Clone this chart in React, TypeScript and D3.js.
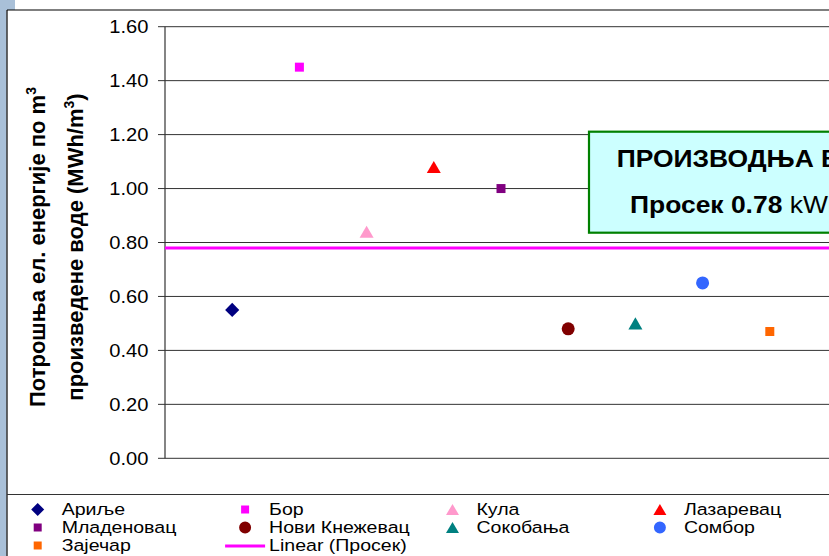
import { useMemo } from 'react'
import { format, scaleLinear, symbol, symbolCircle, symbolSquare, symbolTriangle } from 'd3'

// Потрошња ел. енергије по m³ произведене воде, по погонима, са линијом просека.

const CITIES = ['Ариље', 'Бор', 'Кула', 'Лазаревац', 'Младеновац', 'Нови Кнежевац', 'Сокобања', 'Сомбор', 'Зајечар']
const CONSUMPTION = [0.55, 1.45, 0.84, 1.08, 1.0, 0.48, 0.5, 0.65, 0.47]
const AVERAGE = 0.78
const Y_TICKS = [0, 0.2, 0.4, 0.6, 0.8, 1.0, 1.2, 1.4, 1.6]
const AVERAGE_LABEL = 'Linear (Просек)'

type Shape = 'diamond' | 'square' | 'triangle' | 'circle'
const SHAPES: Shape[] = ['diamond', 'square', 'triangle', 'triangle', 'square', 'circle', 'triangle', 'circle', 'square']
const COLORS = ['#000080', '#FF00FF', '#FF99CC', '#FF0000', '#800080', '#800000', '#008080', '#3366FF', '#FF6600']

const W = 829
const H = 556
const SX = 1.15 // the exported picture is a bit wider than tall
const FONT = '"Liberation Sans", Arial, sans-serif'
const PLOT = { left: 165, right: 837, top: 26.7, bottom: 458.3 }
const LEGEND = { top: 494.5, x0: 37.7, colW: 207.4, row0: 515, rowH: 18, textGap: 24 }

function markerPath(shape: Shape, big: boolean) {
  if (shape === 'diamond') return symbol(symbolSquare, big ? 100 : 85)()
  if (shape === 'square') return symbol(symbolSquare, big ? 81 : 64)()
  if (shape === 'circle') return symbol(symbolCircle, big ? 133 : 113)()
  return symbol(symbolTriangle, big ? 85 : 73)()
}

function triShift(big: boolean) {
  // d3 centres the triangle on its centroid, Excel on the bounding box
  return Math.sqrt((big ? 85 : 73) / (Math.sqrt(3) * 3)) / 2
}

function Marker({ shape, fill, x, y, big }: { shape: Shape; fill: string; x: number; y: number; big: boolean }) {
  const dy = shape === 'triangle' ? triShift(big) : 0
  const rot = shape === 'diamond' ? ' rotate(45)' : ''
  return <path d={markerPath(shape, big) ?? ''} fill={fill} transform={`translate(${x}, ${y + dy})${rot}`} />
}

function SText({ x, y, size, anchor = 'start', weight = 'normal', children }: any) {
  return (
    <text
      transform={`translate(${x}, ${y}) scale(${SX}, 1)`}
      fontSize={size}
      fontWeight={weight}
      textAnchor={anchor}
      fontFamily={FONT}
      fill="#000"
    >
      {children}
    </text>
  )
}

function AxisTitleLine({ x, y, children }: any) {
  return (
    <text
      transform={`translate(${x}, ${y}) rotate(-90)`}
      fontSize={22}
      fontWeight="bold"
      textAnchor="middle"
      fontFamily={FONT}
      fill="#000"
    >
      {children}
    </text>
  )
}

export default function App() {
  const xScale = useMemo(() => scaleLinear().domain([0, 10]).range([PLOT.left, PLOT.right]), [])
  const yScale = useMemo(() => scaleLinear().domain([0, 1.6]).range([PLOT.bottom, PLOT.top]), [])
  const fmt = format('.2f')

  const legendItems = [
    ...CITIES.map((c, i) => ({ label: c, shape: SHAPES[i] as Shape | 'line', color: COLORS[i] })),
    { label: AVERAGE_LABEL, shape: 'line' as const, color: '#FF00FF' },
  ]

  return (
    <svg width={W} height={H} viewBox={`0 0 ${W} ${H}`} style={{ position: 'absolute', left: 0, top: 0, background: '#fff' }}>
      {/* slide background peeking out at the left */}
      <rect x={0} y={0} width={15} height={10} fill="#a9c0d8" />
      <rect x={0} y={0} width={6.5} height={H} fill="#a9c0d8" />
      <line x1={7} y1={10} x2={W} y2={10} stroke="#000" strokeWidth={1.2} />
      <line x1={7} y1={10} x2={7} y2={H} stroke="#000" strokeWidth={1.2} />

      {/* gridlines + ticks */}
      {Y_TICKS.map((t) => {
        const y = yScale(t)
        return (
          <g key={t}>
            <line x1={158} y1={y} x2={PLOT.right} y2={y} stroke="#333" strokeWidth={1} />
            <SText x={148.5} y={y + 6.3} size={17.5} anchor="end">
              {fmt(t)}
            </SText>
          </g>
        )
      })}
      <line x1={PLOT.left} y1={PLOT.top} x2={PLOT.left} y2={PLOT.bottom} stroke="#333" strokeWidth={1.2} />

      {/* y axis title */}
      <AxisTitleLine x={45} y={247}>
        Потрошња ел. енергије по m<tspan dy={-9} fontSize={14}>3</tspan>
      </AxisTitleLine>
      <AxisTitleLine x={83} y={247}>
        произведене воде (MWh/m<tspan dy={-9} fontSize={14}>3</tspan>
        <tspan dy={9}>)</tspan>
      </AxisTitleLine>

      {/* average line */}
      <line x1={PLOT.left} y1={yScale(AVERAGE)} x2={PLOT.right} y2={yScale(AVERAGE)} stroke="#FF00FF" strokeWidth={3} />

      {/* points */}
      {CONSUMPTION.map((v, i) => (
        <Marker key={CITIES[i]} shape={SHAPES[i]} fill={COLORS[i]} x={xScale(i + 1)} y={yScale(v)} big />
      ))}

      {/* annotation box */}
      <rect x={589} y={131.7} width={300} height={101} fill="#CCFFFF" stroke="#008000" strokeWidth={2.2} />
      <SText x={616.7} y={166.7} size={23} weight="bold">
        ПРОИЗВОДЊА ВОДЕ
      </SText>
      <SText x={630} y={213.3} size={23} weight="bold">
        Просек 0.78<tspan fontWeight="normal"> kWh/m</tspan>
      </SText>

      {/* legend */}
      <line x1={7} y1={LEGEND.top} x2={W} y2={LEGEND.top} stroke="#333" strokeWidth={1.2} />
      {legendItems.map((d, i) => {
        const col = i % 4
        const row = Math.floor(i / 4)
        const mx = LEGEND.x0 + col * LEGEND.colW
        const by = LEGEND.row0 + row * LEGEND.rowH
        return (
          <g key={d.label}>
            {d.shape === 'line' ? (
              <line x1={mx - 20} y1={by - 5} x2={mx + 20} y2={by - 5} stroke={d.color} strokeWidth={3} />
            ) : (
              <Marker shape={d.shape} fill={d.color} x={mx} y={by - 5.5} big={false} />
            )}
            <SText x={mx + LEGEND.textGap} y={by} size={17}>
              {d.label}
            </SText>
          </g>
        )
      })}
    </svg>
  )
}
